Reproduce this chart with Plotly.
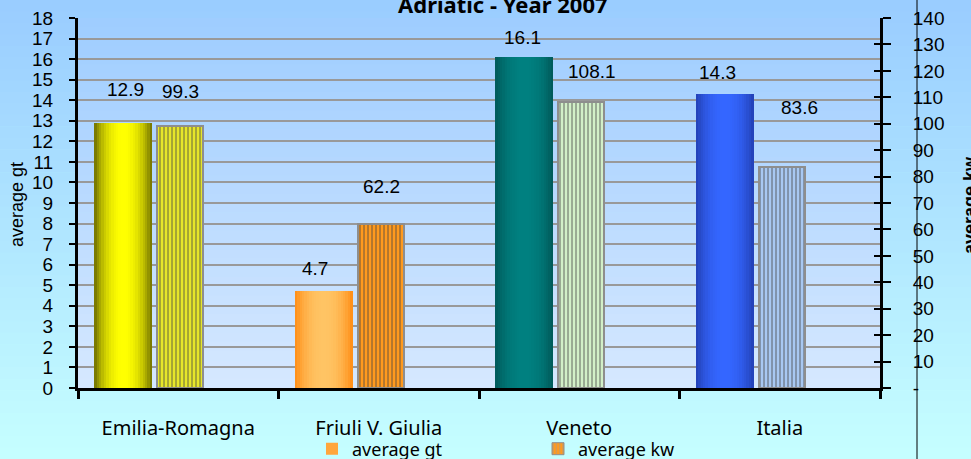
import plotly.graph_objects as go

# ---------------- data ----------------
categories = ["Emilia-Romagna", "Friuli V. Giulia", "Veneto", "Italia"]
avg_gt = [12.9, 4.7, 16.1, 14.3]
avg_kw = [99.3, 62.2, 108.1, 83.6]
gt_label_text = ["12.9", "4.7", "16.1", "14.3"]
kw_label_text = ["99.3", "62.2", "108.1", "83.6"]
kw_ticks = list(range(0, 141, 10))
kw_ticktext = ["-"] + [str(v) for v in kw_ticks[1:]]

# ---------------- styles ----------------
gt_edge = [(110, 110, 0), (255, 140, 20), (0, 88, 88), (34, 64, 180)]
gt_center = [(255, 255, 0), (255, 196, 100), (0, 128, 128), (52, 102, 255)]
kw_bg = ["#E6E62A", "#FF9A1E", "#D2EFC8", "#A8C8F2"]
gt_dx = [2, -9, -2, -7]
gt_dy = [33, 23, 20, 22]
kw_dx = [0, 1, 11, 18]
kw_dy = [34, 37, 31, 60]

W, H = 971, 459
L, R, T, B = 78, 880, 18, 388
PW, PH = R - L, B - T

GT_OFF, GT_W = -0.419, 0.289
KW_OFF, KW_W = -0.105, 0.229
GT_C = GT_OFF + GT_W / 2
KW_C = KW_OFF + KW_W / 2


def px_x(x):
    return (x - L) / PW


def px_y(y):
    return (B - y) / PH


def mix(a, b, t):
    return "rgb(%d,%d,%d)" % tuple(round(a[i] + (b[i] - a[i]) * t) for i in range(3))


fig = go.Figure()

# gradient-shaded gt bars (stacked layers of narrower bars)
N = 12
for k in range(N):
    frac = 1 - k / N
    u = frac - 0.5 / N
    t = max(0.0, min(1.0, 1 - u ** 2.2))
    w = GT_W * frac
    fig.add_trace(go.Bar(
        x=categories, y=avg_gt, yaxis="y",
        width=[w] * len(categories), offset=GT_C - w / 2,
        marker=dict(color=[mix(gt_edge[i], gt_center[i], t) for i in range(len(categories))],
                    line=dict(width=0)),
        showlegend=False, hoverinfo="skip",
    ))

# striped kw bars
fig.add_trace(go.Bar(
    x=categories, y=avg_kw, yaxis="y2", name="average kw",
    width=[KW_W] * len(categories), offset=KW_OFF,
    marker=dict(color=kw_bg, line=dict(color="#8E8E8E", width=2),
                pattern=dict(shape="|", fgcolor="#9A9A9A", bgcolor=kw_bg,
                             size=4, solidity=0.4, fillmode="overlay")),
    showlegend=False, hoverinfo="skip",
))

# legend entries
fig.add_trace(go.Bar(x=[None], y=[None], name="average gt", yaxis="y",
                     marker=dict(color="#FFA63C", line=dict(width=0))))
fig.add_trace(go.Bar(x=[None], y=[None], name="average kw", yaxis="y",
                     marker=dict(color="#FF9A1E", line=dict(color="#8E8E8E", width=1),
                                 pattern=dict(shape="|", fgcolor="#9A9A9A", bgcolor="#FF9A1E",
                                              size=4, solidity=0.4, fillmode="overlay"))))

shapes = []
# figure background gradient
NB = 40
top_c, bot_c = (153, 204, 255), (198, 255, 255)
for i in range(NB):
    y0 = H * i / NB
    y1 = H * (i + 1) / NB + 0.6
    shapes.append(dict(type="rect", xref="paper", yref="paper", layer="below",
                       x0=px_x(0), x1=px_x(W), y0=px_y(y1), y1=px_y(y0),
                       line=dict(width=0), fillcolor=mix(top_c, bot_c, (i + 0.5) / NB)))
# plot area gradient
ptop, pbot = (158, 205, 255), (214, 232, 255)
for i in range(NB):
    y0 = T + PH * i / NB
    y1 = min(B, T + PH * (i + 1) / NB + 0.6)
    shapes.append(dict(type="rect", xref="paper", yref="paper", layer="below",
                       x0=0, x1=1, y0=px_y(y1), y1=px_y(y0),
                       line=dict(width=0), fillcolor=mix(ptop, pbot, (i + 0.5) / NB)))
# vertical border line
shapes.append(dict(type="line", xref="paper", yref="paper", layer="above",
                   x0=px_x(917), x1=px_x(917), y0=px_y(H), y1=px_y(0),
                   line=dict(color="black", width=1)))

annotations = []
lab_font = dict(family="Liberation Sans, Arial", size=19, color="black")
for i in range(len(categories)):
    annotations.append(dict(x=i + GT_C, y=avg_gt[i], xref="x", yref="y",
                            text=gt_label_text[i], showarrow=False, font=lab_font,
                            xanchor="center", yanchor="middle",
                            xshift=gt_dx[i], yshift=gt_dy[i]))
    annotations.append(dict(x=i + KW_C, y=avg_kw[i], xref="x", yref="y2",
                            text=kw_label_text[i], showarrow=False, font=lab_font,
                            xanchor="center", yanchor="middle",
                            xshift=kw_dx[i], yshift=kw_dy[i]))
# title
annotations.append(dict(x=px_x(503), y=px_y(4), xref="paper", yref="paper",
                        text="<b>Adriatic - Year 2007</b>", showarrow=False,
                        font=dict(family="Noto Sans", size=22, color="black"),
                        xanchor="center", yanchor="middle"))
# axis titles
annotations.append(dict(x=px_x(17), y=px_y(205), xref="paper", yref="paper",
                        text="average gt", showarrow=False, textangle=-90,
                        font=dict(family="Liberation Sans, Arial", size=18, color="black"),
                        xanchor="center", yanchor="middle"))
annotations.append(dict(x=px_x(970), y=px_y(205), xref="paper", yref="paper",
                        text="<b>average kw</b>", showarrow=False, textangle=-90,
                        font=dict(family="Liberation Sans, Arial", size=18, color="black"),
                        xanchor="center", yanchor="middle"))

tick_font = dict(family="Liberation Sans, Arial", size=19, color="black")

fig.update_layout(
    width=W, height=H,
    margin=dict(l=L, r=W - R, t=T, b=H - B, pad=0, autoexpand=False),
    paper_bgcolor="rgb(198,255,255)",
    plot_bgcolor="rgba(0,0,0,0)",
    barmode="overlay",
    bargap=0,
    shapes=shapes,
    annotations=annotations,
    showlegend=True,
    legend=dict(orientation="h", x=px_x(312), xanchor="left", y=px_y(449), yanchor="middle",
                font=dict(family="Noto Sans", size=18, color="black"),
                bgcolor="rgba(0,0,0,0)", entrywidth=181, entrywidthmode="pixels",
                traceorder="normal", itemclick=False),
    xaxis=dict(type="category", categoryorder="array", categoryarray=categories,
               range=[-0.5, len(categories) - 0.5],
               showline=True, linecolor="black", linewidth=3,
               ticks="outside", tickson="boundaries", ticklen=8, tickwidth=3, tickcolor="black",
               showgrid=False, ticklabelstandoff=20,
               tickfont=dict(family="Noto Sans", size=20, color="black")),
    yaxis=dict(range=[0, 18], dtick=1, tick0=0, showline=True, linecolor="black", linewidth=3,
               ticks="outside", ticklen=6, tickwidth=2, tickcolor="black",
               showgrid=True, gridcolor="#999999", gridwidth=2, zeroline=False,
               tickfont=tick_font, ticklabelstandoff=12),
    yaxis2=dict(range=[0, 140], overlaying="y", side="right", anchor="x",
                tickmode="array", tickvals=kw_ticks, ticktext=kw_ticktext,
                showline=True, linecolor="black", linewidth=3,
                ticks="outside", ticklen=8, tickwidth=2, tickcolor="black",
                showgrid=False, zeroline=False, tickfont=tick_font, ticklabelstandoff=18),
    yaxis3=dict(range=[0, 140], overlaying="y", side="right", anchor="x",
                tickmode="array", tickvals=kw_ticks, showticklabels=False,
                ticks="inside", ticklen=6, tickwidth=2, tickcolor="black",
                showgrid=False, zeroline=False, showline=False),
)
# dummy trace to activate yaxis3
fig.add_trace(go.Scatter(x=[None], y=[None], yaxis="y3", showlegend=False, hoverinfo="skip"))

fig.write_html("out.html", config={"displayModeBar": False},
               post_script="document.body.style.margin='0px';")
